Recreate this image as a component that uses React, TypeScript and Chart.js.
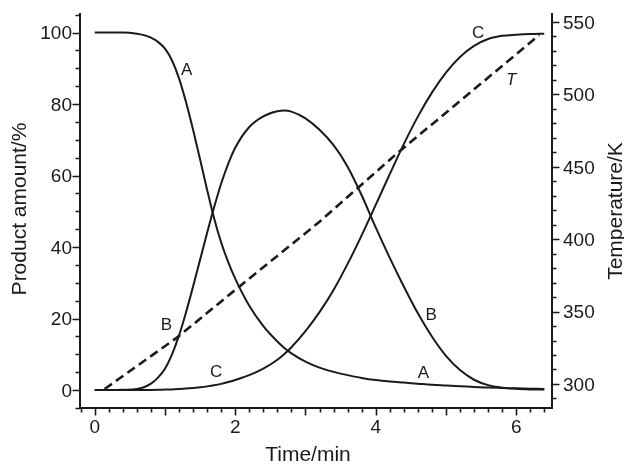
import { useEffect, useRef } from "react";
import { Chart, registerables } from "chart.js";

Chart.register(...registerables);

// ---- data ----
const timeMin = [0, 0.2, 0.4, 0.6, 0.7, 0.8, 0.9, 1.0, 1.1, 1.2, 1.3, 1.4, 1.5, 1.6, 1.7, 1.8, 1.9, 2.0, 2.2, 2.4, 2.6, 2.7, 2.8, 3.0, 3.2, 3.4, 3.6, 3.8, 4.0, 4.2, 4.4, 4.6, 4.8, 5.0, 5.2, 5.4, 5.6, 5.8, 6.0, 6.2, 6.4];
const productA = [100, 100, 100, 99.7, 99.3, 98.6, 97.4, 95.5, 92.2, 87.2, 80.5, 72.8, 64.5, 56, 48, 41.3, 35.8, 31.2, 23.6, 17.9, 13.6, 11.8, 10.3, 8.0, 6.3, 5.1, 4.2, 3.4, 2.8, 2.4, 2.1, 1.8, 1.5, 1.3, 1.1, 0.9, 0.7, 0.6, 0.5, 0.4, 0.3];
const productB = [0, 0, 0.1, 0.3, 0.8, 1.8, 3.5, 6, 10, 15.3, 21.8, 29, 36.5, 44, 51.2, 57.8, 63.3, 67.8, 73.6, 76.6, 78.0, 78.2, 77.9, 76.0, 72.8, 68.5, 62.5, 54.5, 45.5, 37, 29, 21.5, 15, 9.6, 5.6, 2.9, 1.4, 0.7, 0.35, 0.2, 0.15];
const productC = [0, 0, 0, 0, 0, 0.05, 0.1, 0.15, 0.2, 0.3, 0.42, 0.58, 0.8, 1.05, 1.35, 1.75, 2.25, 2.85, 4.2, 6.0, 8.5, 10.1, 12.0, 16.5, 21.8, 28, 35.3, 43.3, 51.8, 60.4, 68.8, 76.5, 83.2, 88.8, 93.2, 96.3, 98.2, 99.1, 99.4, 99.6, 99.7];
const tempTime = [0.14, 1.17, 2.04, 3.2, 4.31, 6.33];
const tempK = [296.5, 332, 366.5, 412, 459.5, 541];

const xTickLabels = [0, 2, 4, 6];
const leftTickLabels = [0, 20, 40, 60, 80, 100];
const rightTickLabels = [300, 350, 400, 450, 500, 550];

const curveLabelTexts = ["A", "B", "C", "A", "B", "C", "T"];
const curveLabelTimes = [1.31, 1.02, 1.73, 4.68, 4.79, 5.46, 5.93];
const curveLabelValues = [89.4, 18.2, 5.1, 4.7, 21, 99.8, 86.8];

const xTitle = "Time/min";
const leftTitle = "Product amount/%";
const rightTitle = "Temperature/K";

const INK = "#1a1a1a";
const FONT = '"Liberation Sans", Arial, Helvetica, sans-serif';

const decorPlugin = {
  id: "decor",
  afterDraw(chart: any) {
    const { ctx, chartArea: a, scales } = chart;
    const x = scales.x;
    const y = scales.y;
    const y1 = scales.y1;
    ctx.save();
    ctx.strokeStyle = INK;
    ctx.fillStyle = INK;
    ctx.lineWidth = 1.6;
    ctx.beginPath();
    // x ticks every 0.2, longer at integers
    for (let i = -1; i <= 40; i++) {
      const v = i * 0.2;
      if (v > x.max + 1e-6) break;
      const px = Math.round(x.getPixelForValue(v)) + 0.5;
      const len = i % 5 === 0 ? 7.5 : 4.5;
      ctx.moveTo(px, a.bottom);
      ctx.lineTo(px, a.bottom + len);
    }
    // left ticks every 5, major every 20
    for (let v = -5; v <= 105; v += 5) {
      const py = Math.round(y.getPixelForValue(v)) + 0.5;
      const len = v % 20 === 0 ? 7.5 : 4.5;
      ctx.moveTo(a.left, py);
      ctx.lineTo(a.left - len, py);
    }
    // right ticks every 10, major every 50
    for (let v = 290; v <= 550; v += 10) {
      const py = Math.round(y1.getPixelForValue(v)) + 0.5;
      const len = v % 50 === 0 ? 7.5 : 4.5;
      ctx.moveTo(a.right, py);
      ctx.lineTo(a.right + len, py);
    }
    ctx.stroke();

    // tick labels
    ctx.font = `19px ${FONT}`;
    ctx.textBaseline = "alphabetic";
    ctx.textAlign = "center";
    xTickLabels.forEach((v) => {
      ctx.fillText(String(v), x.getPixelForValue(v), a.bottom + 25);
    });
    ctx.textAlign = "right";
    leftTickLabels.forEach((v) => {
      ctx.fillText(String(v), a.left - 8, y.getPixelForValue(v) + 6.8);
    });
    ctx.textAlign = "left";
    rightTickLabels.forEach((v) => {
      ctx.fillText(String(v), a.right + 11, y1.getPixelForValue(v) + 6.8);
    });

    // axis titles
    ctx.font = `21px ${FONT}`;
    ctx.textAlign = "center";
    ctx.fillText(xTitle, 308, 461);
    ctx.save();
    ctx.translate(26, 209);
    ctx.rotate(-Math.PI / 2);
    ctx.fillText(leftTitle, 0, 0);
    ctx.restore();
    ctx.save();
    ctx.translate(622, 211);
    ctx.rotate(-Math.PI / 2);
    ctx.fillText(rightTitle, 0, 0);
    ctx.restore();

    // curve labels
    ctx.textBaseline = "middle";
    curveLabelTexts.forEach((t, i) => {
      ctx.font = t === "T" ? `italic 17px ${FONT}` : `17px ${FONT}`;
      ctx.fillText(t, x.getPixelForValue(curveLabelTimes[i]), y.getPixelForValue(curveLabelValues[i]));
    });
    ctx.restore();
  },
};

export default function App() {
  const ref = useRef<HTMLCanvasElement | null>(null);

  useEffect(() => {
    if (!ref.current) return;
    const lineStyle = {
      borderColor: INK,
      borderWidth: 2,
      pointRadius: 0,
      fill: false,
      cubicInterpolationMode: "monotone" as const,
      yAxisID: "y",
    };
    const chart = new Chart(ref.current, {
      type: "line",
      data: {
        datasets: [
          { ...lineStyle, label: "A", data: timeMin.map((t, i) => ({ x: t, y: productA[i] })) },
          { ...lineStyle, label: "B", data: timeMin.map((t, i) => ({ x: t, y: productB[i] })) },
          { ...lineStyle, label: "C", data: timeMin.map((t, i) => ({ x: t, y: productC[i] })) },
          {
            label: "T",
            data: tempTime.map((t, i) => ({ x: t, y: tempK[i] })),
            borderColor: INK,
            borderWidth: 2.6,
            borderDash: [9, 5],
            pointRadius: 0,
            fill: false,
            tension: 0,
            yAxisID: "y1",
          },
        ],
      },
      options: {
        responsive: false,
        animation: false,
        devicePixelRatio: 1,
        layout: { padding: { top: 14, left: 0, right: 0, bottom: 0 } },
        plugins: { legend: { display: false }, tooltip: { enabled: false }, title: { display: false } },
        scales: {
          x: {
            type: "linear",
            min: -0.21,
            max: 6.51,
            grid: { display: false },
            ticks: { display: false },
            border: { display: true, color: INK, width: 2 },
            afterFit: (s: any) => { s.height = 57; },
          },
          y: {
            type: "linear",
            position: "left",
            min: -5,
            max: 105.2,
            grid: { display: false },
            ticks: { display: false },
            border: { display: true, color: INK, width: 2 },
            afterFit: (s: any) => { s.width = 80; },
          },
          y1: {
            type: "linear",
            position: "right",
            min: 283.4,
            max: 555.5,
            grid: { display: false },
            ticks: { display: false },
            border: { display: true, color: INK, width: 2 },
            afterFit: (s: any) => { s.width = 72; },
          },
        },
      },
      plugins: [decorPlugin],
    });
    return () => chart.destroy();
  }, []);

  return (
    <div style={{ position: "absolute", left: 0, top: 0, width: 624, height: 465, background: "#fff" }}>
      <canvas ref={ref} width={624} height={465} style={{ display: "block", width: 624, height: 465 }} />
    </div>
  );
}
